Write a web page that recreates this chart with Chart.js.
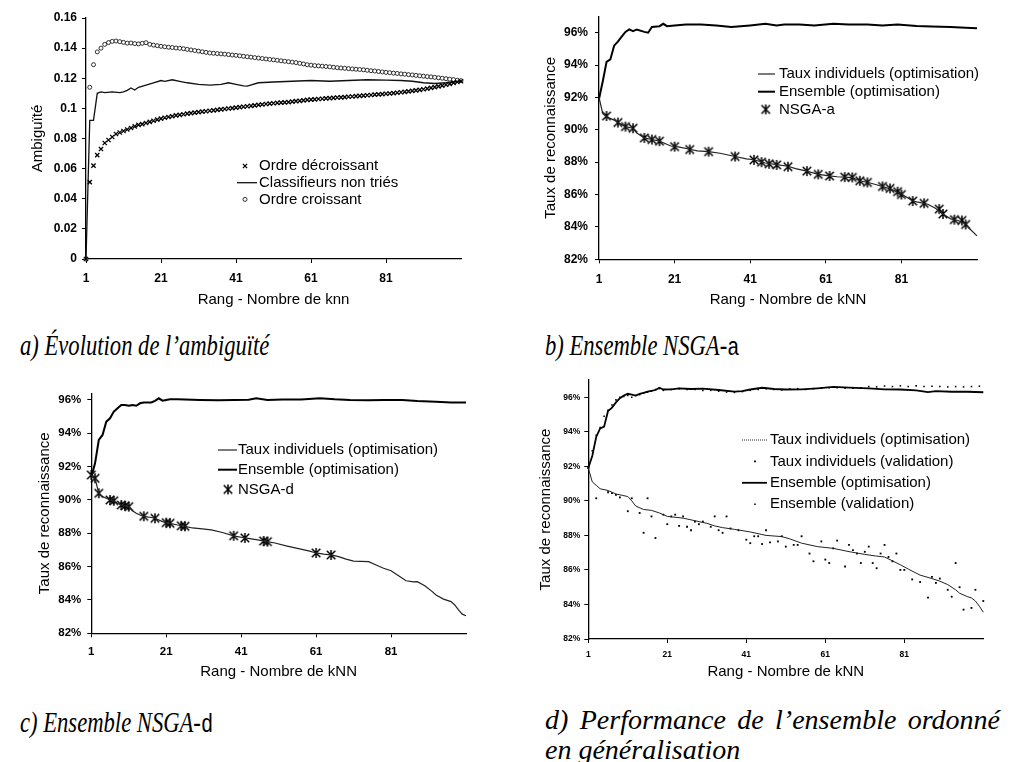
<!DOCTYPE html>
<html>
<head>
<meta charset="utf-8">
<script src="https://cdn.jsdelivr.net/npm/chart.js@4.4.1/dist/chart.umd.min.js"></script>
<style>
  body { margin: 0; background: #fff; }
  #page { position: relative; width: 1013px; height: 762px; overflow: hidden; background: #fff; }
  canvas { position: absolute; }
  .cap { position: absolute; font-family: "Liberation Serif", "DejaVu Serif", serif; font-style: italic;
         font-size: 29px; line-height: 30px; color: #000; white-space: nowrap;
         transform: scaleX(0.78); transform-origin: 0 0; }
  .cap span { font-family: "Liberation Mono", monospace; font-style: normal; font-size: 26px; }
  .wide { transform: none; font-size: 28px; }
  .just { width: 455px; text-align: justify; text-align-last: justify; white-space: normal; }
</style>
</head>
<body>
<div id="page">
  <canvas id="chA" width="480" height="320" style="left:0;top:0"></canvas>
  <canvas id="chB" width="500" height="320" style="left:500px;top:0"></canvas>
  <canvas id="chC" width="480" height="320" style="left:0;top:370px"></canvas>
  <canvas id="chD" width="500" height="320" style="left:500px;top:370px"></canvas>
  <div class="cap" style="left:20px;top:330px">a) Évolution de l’ambiguïté</div>
  <div class="cap" style="left:545px;top:330px">b) Ensemble NSGA-<span>a</span></div>
  <div class="cap" style="left:20px;top:707px">c) Ensemble NSGA-<span>d</span></div>
  <div class="cap wide just" style="left:545px;top:705px">d) Performance de l’ensemble ordonné</div>
  <div class="cap wide" style="left:545px;top:735px">en généralisation</div>
</div>
<script>
Chart.defaults.font.family = '"Liberation Sans", Arial, sans-serif';
Chart.defaults.color = '#000';

// rank axis, shared by all panels
const xTicks = [1, 21, 41, 61, 81];
const ranksA = Array.from({ length: 101 }, (_, i) => i + 1);

// a) ambiguity
const decroissantA = [0, 0.051, 0.062, 0.069, 0.073, 0.077, 0.079, 0.081, 0.083, 0.084,
  0.085, 0.086, 0.087, 0.088, 0.089, 0.0895, 0.0903, 0.091, 0.0918, 0.0925,
  0.0932, 0.0938, 0.0943, 0.0948, 0.0953, 0.0957, 0.0961, 0.0965, 0.0969, 0.0972,
  0.0975, 0.0978, 0.0981, 0.0984, 0.0987, 0.099, 0.0993, 0.0996, 0.0999, 0.1002,
  0.1005, 0.1008, 0.1011, 0.1014, 0.1017, 0.102, 0.1023, 0.1026, 0.1029, 0.1032,
  0.1034, 0.1036, 0.1038, 0.104, 0.1042, 0.1045, 0.1048, 0.105, 0.1053, 0.1056,
  0.1058, 0.106, 0.1062, 0.1064, 0.1066, 0.1068, 0.107, 0.1072, 0.1073, 0.1075,
  0.1077, 0.1079, 0.1081, 0.1083, 0.1085, 0.1087, 0.1089, 0.1091, 0.1093, 0.1095,
  0.1097, 0.1099, 0.1101, 0.1104, 0.1107, 0.111, 0.1113, 0.1116, 0.1119, 0.1123,
  0.1127, 0.1131, 0.1136, 0.1141, 0.1146, 0.1151, 0.1157, 0.1163, 0.1169, 0.1175, 0.118];
const croissantA = [0, 0.114, 0.129, 0.1375, 0.140, 0.1425, 0.1437, 0.1445, 0.1447, 0.1443,
  0.1438, 0.1433, 0.1434, 0.143, 0.1428, 0.1432, 0.1436, 0.1425, 0.142, 0.1416,
  0.1412, 0.1409, 0.1406, 0.1404, 0.1401, 0.1399, 0.1396, 0.1392, 0.1388, 0.1384,
  0.138, 0.1376, 0.1372, 0.1368, 0.1366, 0.1364, 0.1362, 0.136, 0.1357, 0.1354,
  0.1352, 0.1349, 0.1346, 0.1343, 0.134, 0.1337, 0.1334, 0.1331, 0.1328, 0.1325,
  0.1322, 0.1319, 0.1316, 0.1313, 0.131, 0.1307, 0.1304, 0.1299, 0.1295, 0.129,
  0.1287, 0.1284, 0.1282, 0.128, 0.1278, 0.1276, 0.1273, 0.127, 0.1268, 0.1266,
  0.1264, 0.1262, 0.126, 0.1258, 0.1256, 0.1253, 0.125, 0.1248, 0.1245, 0.1242,
  0.1239, 0.1237, 0.1234, 0.1232, 0.1229, 0.1227, 0.1224, 0.1222, 0.1219, 0.1216,
  0.1214, 0.1211, 0.1209, 0.1206, 0.1203, 0.12, 0.1197, 0.1194, 0.1191, 0.1187, 0.1184];
const nonTriesA = [[1, 0], [2, 0.092], [3, 0.092], [4, 0.110], [5, 0.111], [6, 0.1105], [8, 0.111],
  [10, 0.1105], [11, 0.111], [12, 0.112], [13, 0.1135], [14, 0.1122], [15, 0.114], [17, 0.1155],
  [19, 0.117], [21, 0.1185], [22, 0.118], [24, 0.119], [26, 0.118], [28, 0.117], [31, 0.116],
  [34, 0.1155], [37, 0.116], [39, 0.117], [41, 0.116], [43, 0.115], [44, 0.1148], [47, 0.117],
  [51, 0.1175], [56, 0.118], [61, 0.1185], [66, 0.118], [71, 0.1185], [76, 0.119], [81, 0.1188],
  [85, 0.1185], [88, 0.118], [91, 0.117], [94, 0.1165], [97, 0.117], [101, 0.118]];

// b) NSGA-a
const indivB = [[1, 92.0], [2, 91.0], [3, 90.8], [5, 90.6], [6, 90.45], [8, 90.2], [10, 90.1], [11, 89.8],
  [13, 89.5], [15, 89.4], [17, 89.3], [18, 89.2], [20, 89.0], [22, 88.95], [25, 88.8], [27, 88.7],
  [30, 88.65], [33, 88.55], [37, 88.35], [40, 88.2], [42, 88.15], [45, 87.95], [48, 87.85], [51, 87.75],
  [53, 87.6], [56, 87.45], [59, 87.25], [62, 87.15], [64, 87.1], [68, 87.05], [70, 86.85], [73, 86.7],
  [76, 86.5], [78, 86.35], [80, 86.15], [82, 85.9], [84, 85.6], [86, 85.5], [88, 85.4], [90, 85.15],
  [92, 84.8], [94, 84.5], [96, 84.4], [98, 84.2], [99, 83.9], [101, 83.45]];
const ensembleB = [[1, 91.9], [2, 93.0], [3, 94.2], [4, 94.35], [5, 95.2], [6, 95.45], [7, 95.75],
  [8, 96.05], [9, 96.2], [10, 96.1], [11, 96.2], [13, 96.05], [14, 96.0], [15, 96.35], [17, 96.4],
  [18, 96.55], [19, 96.4], [21, 96.45], [24, 96.5], [28, 96.5], [32, 96.45], [36, 96.35], [41, 96.45],
  [45, 96.55], [48, 96.45], [50, 96.5], [54, 96.5], [58, 96.45], [63, 96.55], [67, 96.5], [72, 96.5],
  [76, 96.45], [80, 96.5], [85, 96.42], [89, 96.38], [94, 96.35], [98, 96.3], [101, 96.27]];
const nsgaA = [[3, 90.85], [6, 90.45], [8, 90.2], [10, 90.1], [13, 89.5], [15, 89.4], [17, 89.3],
  [21, 88.96], [25, 88.78], [30, 88.65], [37, 88.35], [42, 88.14], [44, 88.0], [46, 87.9], [48, 87.83],
  [51, 87.72], [56, 87.45], [59, 87.25], [62, 87.15], [66, 87.08], [68, 87.06], [70, 86.85], [72, 86.75],
  [76, 86.5], [78, 86.38], [80, 86.18], [81, 86.0], [84, 85.6], [87, 85.46], [91, 85.1], [92, 84.8],
  [95, 84.45], [97, 84.4], [98, 84.15]];

// c) NSGA-d
const indivC = [[1, 91.5], [2, 91.3], [3, 90.4], [4, 90.2], [5, 90.1], [6, 90.0], [7, 89.95], [8, 89.8],
  [9, 89.7], [10, 89.65], [11, 89.6], [12, 89.35], [13, 89.2], [14, 89.1], [15, 89.02], [17, 88.95],
  [18, 88.9], [20, 88.7], [21, 88.64], [22, 88.6], [24, 88.5], [26, 88.42], [28, 88.32], [30, 88.28],
  [33, 88.2], [36, 88.05], [39, 87.85], [42, 87.72], [45, 87.62], [48, 87.5], [50, 87.42], [53, 87.25],
  [56, 87.1], [59, 86.95], [61, 86.82], [63, 86.75], [65, 86.7], [67, 86.6], [69, 86.45], [71, 86.33],
  [73, 86.32], [75, 86.3], [77, 86.1], [79, 85.9], [81, 85.75], [83, 85.45], [85, 85.15], [87, 85.08],
  [88, 85.1], [90, 84.85], [92, 84.5], [93, 84.3], [95, 84.05], [97, 83.9], [98, 83.7], [99, 83.4],
  [100, 83.15], [101, 83.05]];
const ensembleC = [[1, 91.4], [2, 92.2], [3, 93.6], [4, 93.9], [5, 94.7], [6, 94.9], [7, 95.3], [8, 95.5],
  [9, 95.7], [10, 95.7], [11, 95.65], [12, 95.7], [13, 95.65], [14, 95.8], [15, 95.85], [17, 95.85],
  [18, 95.95], [19, 96.1], [20, 95.96], [21, 96.0], [22, 96.04], [24, 96.05], [26, 96.03], [30, 96.0],
  [35, 95.98], [39, 96.0], [43, 96.02], [45, 96.1], [48, 96.0], [52, 96.03], [57, 96.03], [62, 96.1],
  [66, 96.04], [70, 96.0], [75, 95.98], [79, 96.0], [84, 96.0], [88, 95.94], [93, 95.9], [97, 95.85],
  [101, 95.85]];
const nsgaD = [[1, 91.5], [2, 91.3], [3, 90.4], [6, 90.0], [7, 89.95], [9, 89.7], [10, 89.65], [11, 89.6],
  [15, 89.02], [18, 88.9], [21, 88.64], [22, 88.6], [25, 88.45], [26, 88.42], [39, 87.85], [42, 87.72],
  [47, 87.54], [48, 87.5], [61, 86.82], [65, 86.7]];

// d) generalisation
const indivOptD = [[1, 91.9], [2, 91.1], [3, 90.9], [4, 90.7], [6, 90.6], [8, 90.4], [10, 90.3], [11, 90.25],
  [12, 90.0], [13, 89.7], [15, 89.5], [17, 89.45], [19, 89.3], [20, 89.2], [21, 89.1], [25, 89.0],
  [29, 88.8], [31, 88.7], [33, 88.55], [35, 88.45], [38, 88.35], [42, 88.2], [46, 88.0], [50, 87.93],
  [52, 87.8], [55, 87.55], [59, 87.35], [63, 87.25], [67, 87.06], [71, 86.9], [74, 86.8], [76, 86.75],
  [80, 86.3], [82, 86.05], [85, 85.7], [88, 85.5], [90, 85.35], [92, 85.15], [94, 84.85], [95, 84.65],
  [97, 84.45], [98, 84.38], [99, 84.2], [100, 83.9], [101, 83.55]];
const indivValD = [[1, 91.9], [3, 90.15], [6, 90.5], [7, 90.45], [8, 90.35], [9, 90.2], [11, 89.4],
  [12, 90.15], [14, 89.3], [15, 88.15], [16, 90.15], [17, 89.1], [18, 87.85], [20, 89.2], [21, 88.65],
  [22, 89.1], [23, 89.2], [24, 88.55], [25, 89.1], [26, 88.5], [27, 88.3], [28, 88.8], [29, 88.65],
  [30, 88.8], [32, 88.5], [33, 89.1], [34, 88.3], [35, 88.15], [36, 89.1], [37, 88.4], [39, 88.3],
  [41, 87.75], [42, 87.55], [43, 87.95], [44, 87.95], [45, 87.5], [46, 88.3], [47, 87.6], [49, 87.65],
  [50, 87.95], [51, 87.35], [53, 87.45], [54, 87.45], [55, 87.95], [57, 86.95], [58, 86.5], [60, 87.65],
  [61, 86.6], [62, 86.4], [63, 87.25], [64, 87.7], [66, 86.2], [67, 87.45], [68, 87.15], [69, 86.95],
  [70, 86.4], [71, 87.05], [72, 87.35], [73, 86.4], [74, 86.1], [75, 86.95], [76, 87.45], [77, 86.75],
  [78, 86.5], [79, 86.95], [80, 86.0], [81, 86.0], [83, 85.45], [85, 85.3], [87, 84.4], [88, 85.6],
  [89, 85.25], [90, 85.5], [92, 84.85], [93, 84.45], [94, 86.4], [95, 85.0], [96, 83.7], [98, 83.8],
  [99, 84.85], [101, 84.2]];
const ensOptD = [[1, 91.9], [2, 92.6], [3, 93.7], [4, 94.2], [5, 94.3], [6, 95.2], [7, 95.4], [8, 95.7],
  [9, 95.95], [10, 96.1], [11, 96.2], [12, 96.15], [13, 96.1], [14, 96.2], [15, 96.25], [16, 96.33],
  [18, 96.42], [19, 96.55], [20, 96.45], [22, 96.46], [24, 96.52], [27, 96.48], [30, 96.5], [34, 96.42],
  [38, 96.33], [40, 96.35], [42, 96.45], [45, 96.55], [48, 96.48], [51, 96.45], [55, 96.46], [59, 96.52],
  [63, 96.6], [67, 96.56], [72, 96.52], [76, 96.46], [80, 96.45], [84, 96.4], [87, 96.3], [89, 96.36],
  [93, 96.32], [97, 96.32], [101, 96.29]];
const ensValD = [[1, 91.9], [2, 92.9], [3, 93.8], [4, 94.25], [5, 94.9], [6, 95.25], [7, 95.55], [8, 95.85],
  [9, 96.0], [10, 96.05], [11, 96.1], [12, 96.0], [13, 96.1], [14, 96.15], [15, 96.25], [16, 96.3],
  [17, 96.35], [18, 96.45], [19, 96.5], [20, 96.4], [22, 96.45], [24, 96.5], [26, 96.45], [28, 96.45],
  [30, 96.4], [32, 96.4], [34, 96.35], [36, 96.3], [38, 96.28], [40, 96.33], [42, 96.4], [44, 96.45],
  [46, 96.5], [48, 96.45], [50, 96.42], [52, 96.48], [54, 96.5], [56, 96.45], [58, 96.5], [60, 96.52],
  [62, 96.55], [64, 96.55], [66, 96.52], [68, 96.52], [70, 96.55], [72, 96.62], [74, 96.6], [76, 96.65],
  [78, 96.62], [80, 96.66], [82, 96.62], [84, 96.66], [86, 96.62], [88, 96.64], [90, 96.62], [92, 96.6],
  [94, 96.62], [96, 96.6], [98, 96.62], [100, 96.64]];

const yTicksA = [0, 0.02, 0.04, 0.06, 0.08, 0.1, 0.12, 0.14, 0.16];
const yTicksPct = [82, 84, 86, 88, 90, 92, 94, 96];

const xy = pairs => pairs.map(p => ({ x: p[0], y: p[1] }));

// Excel-like asterisk marker (x with a vertical bar)
function asterisk(size, lw) {
  const c = document.createElement('canvas');
  c.width = c.height = size;
  const g = c.getContext('2d');
  const m = size / 2, r = size / 2 - 1, d = r * 0.85;
  g.strokeStyle = '#000';
  g.lineWidth = lw;
  g.beginPath();
  g.moveTo(m - d, m - d); g.lineTo(m + d, m + d);
  g.moveTo(m + d, m - d); g.lineTo(m - d, m + d);
  g.moveTo(m, m - r); g.lineTo(m, m + r);
  g.stroke();
  return c;
}
const star = asterisk(12, 1.5);

// legend drawn inside the plot, rows taken from the datasets
const boxLegend = {
  id: 'boxLegend',
  afterDraw(chart, args, o) {
    const ctx = chart.ctx;
    ctx.save();
    ctx.font = '15px "Liberation Sans", Arial, sans-serif';
    ctx.textBaseline = 'middle';
    chart.data.datasets.forEach((ds, i) => {
      const y = o.y + i * o.rowH;
      if (ds.showLine === false) {
        ctx.fillStyle = ds.pointBackgroundColor || '#000';
        ctx.strokeStyle = ds.pointBorderColor || '#000';
        ctx.lineWidth = ds.pointBorderWidth || 1;
        Chart.helpers.drawPoint(ctx, { pointStyle: ds.pointStyle, radius: ds.pointRadius,
          borderWidth: ds.pointBorderWidth || 0, rotation: 0 }, o.markX, y);
      } else {
        ctx.strokeStyle = ds.borderColor;
        ctx.lineWidth = ds.borderWidth;
        ctx.setLineDash(ds.legendDash || []);
        ctx.beginPath();
        ctx.moveTo(o.lineFrom, y);
        ctx.lineTo(o.lineTo, y);
        ctx.stroke();
        ctx.setLineDash([]);
      }
      ctx.fillStyle = '#000';
      ctx.fillText(ds.label, o.textX, y);
    });
    ctx.restore();
  }
};

function lineSet(label, pairs, width, color, extra) {
  return Object.assign({ label, data: xy(pairs), borderColor: color, borderWidth: width,
    pointRadius: 0, tension: 0, fill: false, clip: false }, extra || {});
}
function markSet(label, pairs, style, radius, bw, fillColor) {
  return { label, data: xy(pairs), showLine: false, pointStyle: style, pointRadius: radius,
    pointBorderWidth: bw, pointBorderColor: '#000', pointBackgroundColor: fillColor,
    pointHoverRadius: radius, clip: false };
}

function panel(id, datasets, p) {
  const tickFont = { size: p.tickSize, weight: 'bold' };
  const titleFont = { size: 15 };
  const axisGrid = { display: true, drawOnChartArea: false, drawTicks: true, tickLength: 4,
    color: '#000', lineWidth: 1 };
  return new Chart(document.getElementById(id), {
    type: 'line',
    data: { datasets },
    options: {
      responsive: false,
      animation: false,
      devicePixelRatio: 1,
      events: [],
      layout: { padding: p.pad },
      plugins: { legend: { display: false }, tooltip: { enabled: false }, boxLegend: p.legend },
      scales: {
        x: {
          type: 'linear', min: 1, max: 101,
          afterBuildTicks: s => { s.ticks = xTicks.map(v => ({ value: v })); },
          afterFit: s => { s.height = p.xh; },
          ticks: { font: tickFont, padding: p.xPad, autoSkip: false, maxRotation: 0, color: '#000' },
          grid: axisGrid,
          border: { display: true, color: '#000', width: 1.3 },
          title: { display: true, text: p.xTitle, font: titleFont, padding: { top: 0, bottom: 0 }, color: '#000' }
        },
        y: {
          type: 'linear', min: p.yMin, max: p.yMax,
          afterBuildTicks: s => { s.ticks = p.yTicks.map(v => ({ value: v })); },
          afterFit: s => { s.width = p.yw; },
          ticks: { font: tickFont, padding: p.yPad, color: '#000', callback: p.yFmt },
          grid: axisGrid,
          border: { display: true, color: '#000', width: 1.3 },
          title: { display: true, text: p.yTitle, font: titleFont, padding: { top: p.yTitlePad, bottom: 0 }, color: '#000' }
        }
      }
    },
    plugins: [boxLegend]
  });
}

const pct = v => v + '%';

panel('chA', [
  markSet('Ordre décroissant', ranksA.map((r, i) => [r, decroissantA[i]]), 'crossRot', 3, 1.3, '#000'),
  lineSet('Classifieurs non triés', nonTriesA, 1.3, '#111'),
  markSet('Ordre croissant', ranksA.map((r, i) => [r, croissantA[i]]), 'circle', 2, 0.8, '#fff')
], {
  pad: { left: 0, right: 19, top: 18, bottom: 11 }, yw: 86, xh: 50, yTitlePad: 29,
  yPad: 5, xPad: 8, tickSize: 12, yMin: 0, yMax: 0.16, yTicks: yTicksA,
  yFmt: v => String(parseFloat(v.toFixed(2))),
  xTitle: 'Rang - Nombre de knn', yTitle: 'Ambiguïté',
  legend: { y: 166, rowH: 16.7, markX: 245, lineFrom: 237, lineTo: 257, textX: 259 }
});

panel('chB', [
  lineSet('Taux individuels (optimisation)', indivB, 1.2, '#222'),
  lineSet('Ensemble (optimisation)', ensembleB, 2, '#000'),
  markSet('NSGA-a', nsgaA, star, 6, 0, '#000')
], {
  pad: { left: 0, right: 23, top: 16.5, bottom: 11 }, yw: 99, xh: 49.7, yTitlePad: 41.5,
  yPad: 7, xPad: 9, tickSize: 12, yMin: 82, yMax: 97, yTicks: yTicksPct, yFmt: pct,
  xTitle: 'Rang - Nombre de kNN', yTitle: 'Taux de reconnaissance',
  legend: { y: 74, rowH: 17.7, markX: 265.7, lineFrom: 258, lineTo: 275, textX: 279 }
});

panel('chC', [
  lineSet('Taux individuels (optimisation)', indivC, 1.2, '#222'),
  lineSet('Ensemble (optimisation)', ensembleC, 2, '#000'),
  markSet('NSGA-d', nsgaD, star, 6, 0, '#000')
], {
  pad: { left: 0, right: 14, top: 23.3, bottom: 9.3 }, yw: 91.3, xh: 47.4, yTitlePad: 36,
  yPad: 6, xPad: 8, tickSize: 11.5, yMin: 82, yMax: 96.4, yTicks: yTicksPct, yFmt: pct,
  xTitle: 'Rang - Nombre de kNN', yTitle: 'Taux de reconnaissance',
  legend: { y: 80, rowH: 19.7, markX: 228, lineFrom: 218, lineTo: 237, textX: 238 }
});

panel('chD', [
  lineSet('Taux individuels (optimisation)', indivOptD, 1, '#222', { legendDash: [1, 1] }),
  markSet('Taux individuels (validation)', indivValD, 'rect', 1.3, 0, '#000'),
  lineSet('Ensemble (optimisation)', ensOptD, 1.8, '#000'),
  markSet('Ensemble (validation)', ensValD, 'rect', 1.1, 0, '#000')
], {
  pad: { left: 0, right: 16.7, top: 10, bottom: 9.3 }, yw: 88.3, xh: 41.7, yTitlePad: 37,
  yPad: 4, xPad: 7, tickSize: 8.5, yMin: 82, yMax: 97, yTicks: yTicksPct, yFmt: pct,
  xTitle: 'Rang - Nombre de kNN', yTitle: 'Taux de reconnaissance',
  legend: { y: 70, rowH: 21.4, markX: 255, lineFrom: 242, lineTo: 267, textX: 270 }
});
</script>
</body>
</html>
